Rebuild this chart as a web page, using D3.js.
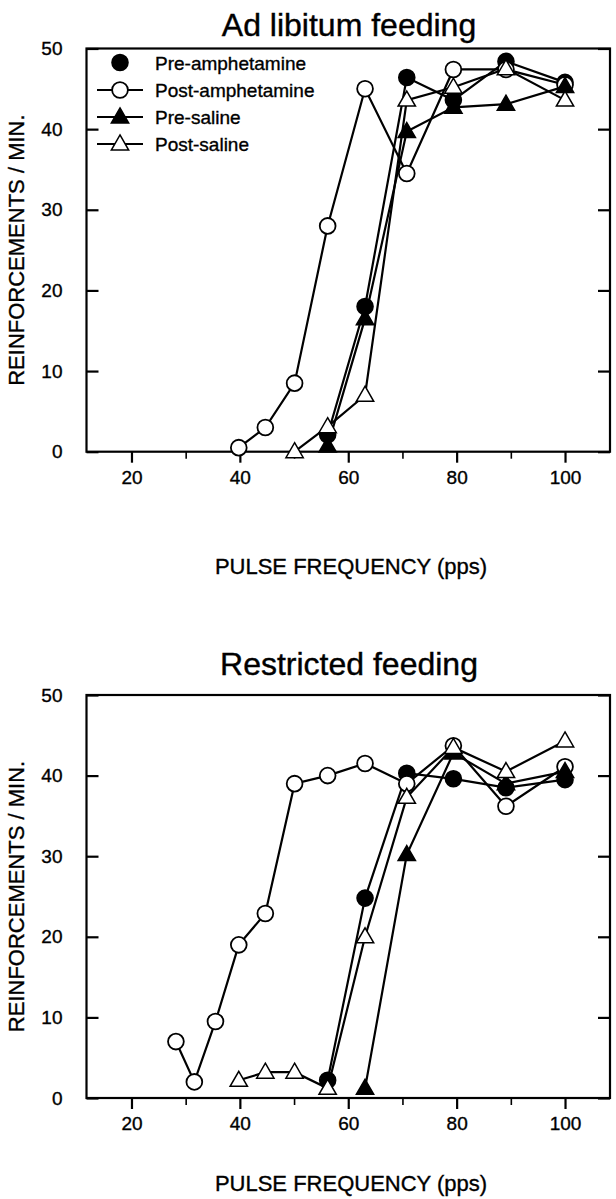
<!DOCTYPE html>
<html><head><meta charset="utf-8">
<script src="https://cdn.jsdelivr.net/npm/d3@7"></script>
<style>body{margin:0;background:#fff}svg{display:block}</style>
</head><body>
<svg id="c" width="616" height="1199"></svg>
<script>
// ---- data ----
const freq = [28.2, 31.6, 35.5, 39.8, 44.7, 50.1, 56.2, 63.1, 70.8, 79.4, 89.1, 100];
const seriesNames = ["Pre-amphetamine", "Post-amphetamine", "Pre-saline", "Post-saline"];
const panelTitles = ["Ad libitum feeding", "Restricted feeding"];
const xTickMajor = [20, 40, 60, 80, 100];
const xTickMinor = [30, 50, 70, 90];
const yTicks = [0, 10, 20, 30, 40, 50];
const xTitle = "PULSE FREQUENCY (pps)";
const yTitle = "REINFORCEMENTS / MIN.";

// Ad libitum feeding
const adPreAmph  = [null, null, null, null, null, null, 2.1, 18, 46.4, 43.6, 48.4, 45.8];
const adPostAmph = [null, null, null, 0.5, 3, 8.5, 28, 45, 34.5, 47.4, 47.4, 45.5];
const adPreSal   = [null, null, null, null, null, null, 0.7, 16.5, 39.7, 42.7, 43.1, 45.3];
const adPostSal  = [null, null, null, null, null, 0, 3.1, 7, 43.6, 45.2, 47.5, 43.6];

// Restricted feeding
const rePreAmph  = [null, null, null, null, null, null, 2.2, 24.8, 40.3, 39.6, 38.5, 39.5];
const rePostAmph = [7, 2, 9.5, 19, 22.9, 39, 40, 41.5, 39, 43.7, 36.2, 41.1];
const rePreSal   = [null, null, null, null, null, null, null, 1.2, 30.2, 42.8, 39, 40.5];
const rePostSal  = [null, null, null, 2.2, 3.2, 3.2, 1.2, 20, 37.3, 43.5, 40.5, 44.3];

// ---- drawing ----
const FONT = "'Liberation Sans', Arial, Helvetica, sans-serif";
const svg = d3.select("#c");
const x = d3.scaleLinear().domain([11.7, 108.3]).range([86.5, 610]);

const styles = [
  {shape: "circle", fill: "#000"},
  {shape: "circle", fill: "#fff"},
  {shape: "triangle", fill: "#000"},
  {shape: "triangle", fill: "#fff"}
];
const triPath = d3.symbol().type(d3.symbolTriangle).size(130)();

function heavy(sel) {
  return sel.attr("fill", "#000").attr("stroke", "#000").attr("stroke-width", 0.35);
}

function marker(g, st, cx, cy) {
  if (st.shape === "circle") {
    g.append("circle").attr("cx", cx).attr("cy", cy).attr("r", 7.9)
      .attr("fill", st.fill).attr("stroke", "#000").attr("stroke-width", 1.8);
  } else {
    g.append("path").attr("d", triPath).attr("transform", `translate(${cx},${cy + 1})`)
      .attr("fill", st.fill).attr("stroke", "#000").attr("stroke-width", 1.5)
      .attr("stroke-linejoin", "miter");
  }
}

function panel(cfg) {
  const y = d3.scaleLinear().domain([0, 50]).range([cfg.y0, cfg.y1]);
  const g = svg.append("g");
  const [xl, xr] = x.range();

  // title
  heavy(g.append("text").attr("x", 349).attr("y", cfg.titleY).attr("text-anchor", "middle")
    .attr("font-family", FONT).attr("font-size", 32).text(cfg.title)).attr("stroke-width", 0.4);

  // axes
  const bx = g.append("g").attr("transform", `translate(0,${cfg.y0})`)
    .call(d3.axisBottom(x).tickValues(xTickMajor).tickSize(11).tickSizeOuter(0).tickPadding(8).tickFormat(d3.format("d")));
  bx.select(".domain").remove();
  bx.selectAll("line").attr("stroke-width", 2.2);
  heavy(bx.selectAll("text").attr("font-family", FONT).attr("font-size", 19));
  const mx = g.append("g").attr("transform", `translate(0,${cfg.y0})`)
    .call(d3.axisBottom(x).tickValues(xTickMinor).tickSize(7).tickSizeOuter(0).tickFormat(""));
  mx.select(".domain").remove();
  mx.selectAll("line").attr("stroke-width", 1.6);

  const ly = g.append("g").attr("transform", `translate(${xl},0)`)
    .call(d3.axisLeft(y).tickValues(yTicks).tickSize(-12).tickSizeOuter(0).tickPadding(24));
  ly.select(".domain").remove();
  ly.selectAll("line").attr("stroke-width", 2.2);
  heavy(ly.selectAll("text").attr("font-family", FONT).attr("font-size", 19));
  const ry = g.append("g").attr("transform", `translate(${xr},0)`)
    .call(d3.axisRight(y).tickValues(yTicks).tickSize(-12).tickSizeOuter(0).tickFormat(""));
  ry.select(".domain").remove();
  ry.selectAll("line").attr("stroke-width", 2.2);

  // frame
  g.append("rect").attr("x", xl).attr("y", cfg.y1).attr("width", xr - xl).attr("height", cfg.y0 - cfg.y1)
    .attr("fill", "none").attr("stroke", "#000").attr("stroke-width", 2.2);

  // axis titles
  heavy(g.append("text").attr("x", 351).attr("y", cfg.xTitleY).attr("text-anchor", "middle")
    .attr("font-family", FONT).attr("font-size", 22).text(xTitle));
  heavy(g.append("text").attr("transform", `translate(24,${(cfg.y0 + cfg.y1) / 2}) rotate(-90)`)
    .attr("text-anchor", "middle").attr("font-family", FONT).attr("font-size", 22).text(yTitle));

  // series
  const line = d3.line().defined(d => d.v !== null).x(d => x(d.f)).y(d => y(d.v));
  cfg.series.forEach((vals, i) => {
    const pts = freq.map((f, k) => ({f, v: vals[k]}));
    const sg = g.append("g");
    sg.append("path").attr("d", line(pts)).attr("fill", "none").attr("stroke", "#000").attr("stroke-width", 2.2);
    pts.filter(d => d.v !== null).forEach(d => marker(sg, styles[i], x(d.f), y(d.v)));
  });

  // legend
  if (cfg.legend) {
    const rows = [62.5, 90, 117, 144];
    seriesNames.forEach((name, i) => {
      const lg = g.append("g");
      if (i > 0) lg.append("line").attr("x1", 97).attr("x2", 143).attr("y1", rows[i]).attr("y2", rows[i])
        .attr("stroke", "#000").attr("stroke-width", 2.2);
      marker(lg, styles[i], 120, rows[i]);
      heavy(lg.append("text").attr("x", 155).attr("y", rows[i] + 7).attr("font-family", FONT)
        .attr("font-size", 19).text(name));
    });
  }
}

panel({title: panelTitles[0], titleY: 36, y0: 451.7, y1: 48.5, xTitleY: 574,
  series: [adPreAmph, adPostAmph, adPreSal, adPostSal], legend: true});
panel({title: panelTitles[1], titleY: 675, y0: 1098, y1: 695, xTitleY: 1191,
  series: [rePreAmph, rePostAmph, rePreSal, rePostSal], legend: false});
</script>
</body></html>
